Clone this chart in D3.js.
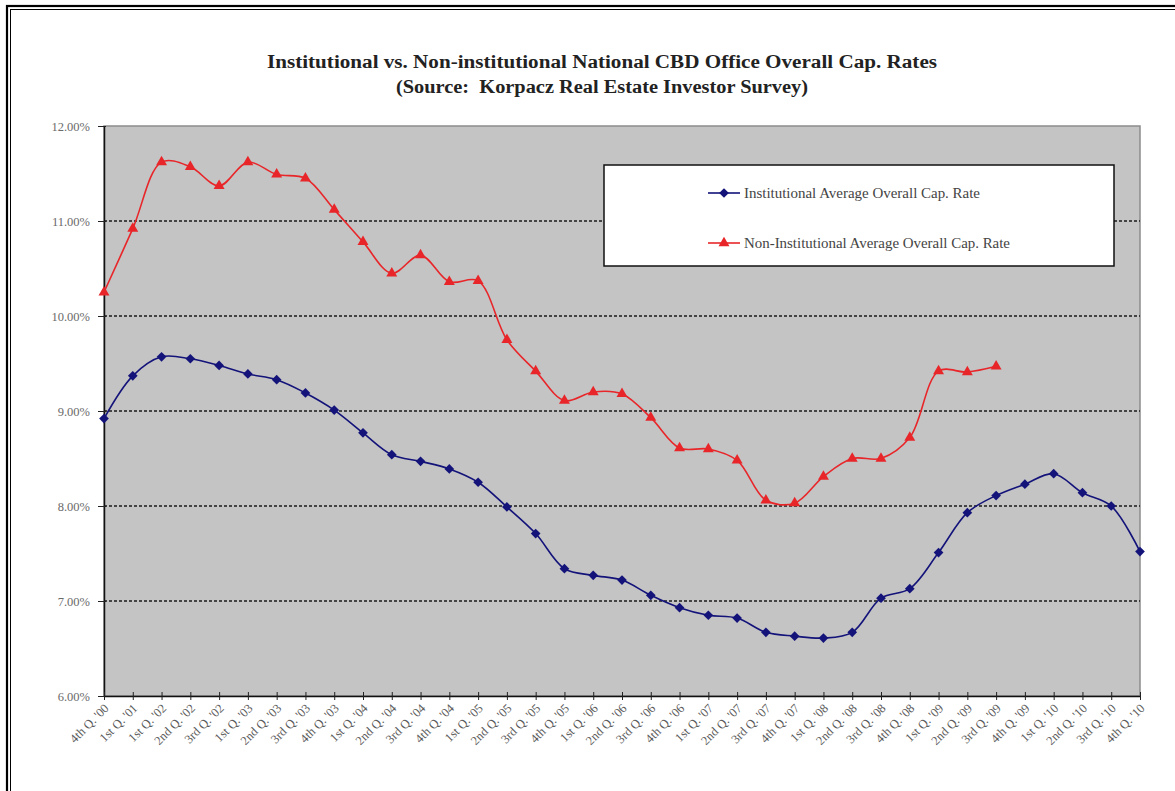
<!DOCTYPE html>
<html>
<head>
<meta charset="utf-8">
<script src="https://cdn.jsdelivr.net/npm/d3@7"></script>
<style>
  body { margin: 0; background: #fff; }
  svg { display: block; }
  text { font-family: "Liberation Serif", "DejaVu Serif", serif; }
</style>
</head>
<body>
<div class="chart"></div>
<script>
// quarters along the x axis (as printed in the source)
const quarters = [
  "4th Q. '00", "1st Q. '01", "1st Q. '02", "2nd Q. '02", "3rd Q. '02",
  "1st Q. '03", "2nd Q. '03", "3rd Q. '03", "4th Q. '03",
  "1st Q. '04", "2nd Q. '04", "3rd Q. '04", "4th Q. '04",
  "1st Q. '05", "2nd Q. '05", "3rd Q. '05", "4th Q. '05",
  "1st Q. '06", "2nd Q. '06", "3rd Q. '06", "4th Q. '06",
  "1st Q. '07", "2nd Q. '07", "3rd Q. '07", "4th Q. '07",
  "1st Q. '08", "2nd Q. '08", "3rd Q. '08", "4th Q. '08",
  "1st Q. '09", "2nd Q. '09", "3rd Q. '09", "4th Q. '09",
  "1st Q. '10", "2nd Q. '10", "3rd Q. '10", "4th Q. '10"
];

// cap rates in percent
const institutional = [
  8.92, 9.37, 9.57, 9.55, 9.48, 9.39, 9.33, 9.19, 9.01, 8.77,
  8.54, 8.47, 8.39, 8.25, 7.99, 7.71, 7.34, 7.27, 7.22, 7.06,
  6.93, 6.85, 6.82, 6.67, 6.63, 6.61, 6.67, 7.03, 7.13, 7.51,
  7.93, 8.11, 8.23, 8.34, 8.14, 8.00, 7.52
];
// non-institutional series stops at 3rd Q. '09
const nonInstitutional = [
  10.25, 10.92, 11.62, 11.57, 11.37, 11.62, 11.49, 11.45, 11.12, 10.78,
  10.45, 10.64, 10.36, 10.37, 9.75, 9.42, 9.11, 9.20, 9.18, 8.93,
  8.61, 8.60, 8.48, 8.06, 8.03, 8.31, 8.50, 8.50, 8.72, 9.42,
  9.41, 9.47
];

const yTicks = [6, 7, 8, 9, 10, 11, 12];
const gridValues = [7, 8, 9, 10, 11];

const seriesNames = [
  "Institutional Average Overall Cap. Rate",
  "Non-Institutional Average Overall Cap. Rate"
];

const W = 1175, H = 791;
const plot = { left: 104, right: 1140, top: 126, bottom: 696 };

const svg = d3.select(".chart").append("svg")
  .attr("width", W)
  .attr("height", H);

// page frame (cut off at right and bottom in the source)
svg.append("rect")
  .attr("x", 7).attr("y", 6)
  .attr("width", W + 20).attr("height", H + 20)
  .attr("fill", "none").attr("stroke", "#000").attr("stroke-width", 2.2);
svg.append("rect")
  .attr("x", 10.5).attr("y", 9.5)
  .attr("width", W + 20).attr("height", H + 20)
  .attr("fill", "none").attr("stroke", "#000").attr("stroke-width", 1);

// title
const title = svg.append("g").attr("font-weight", "bold").attr("fill", "#222")
  .attr("text-anchor", "middle").attr("font-size", 18);
title.append("text").attr("x", 602).attr("y", 68)
  .attr("textLength", 670).attr("lengthAdjust", "spacingAndGlyphs")
  .text("Institutional vs. Non-institutional National CBD Office Overall Cap. Rates");
title.append("text").attr("x", 602).attr("y", 93)
  .attr("textLength", 412).attr("lengthAdjust", "spacingAndGlyphs")
  .attr("xml:space", "preserve")
  .text("(Source:  Korpacz Real Estate Investor Survey)");

const x = d3.scalePoint()
  .domain(quarters)
  .range([plot.left, plot.right]);

const y = d3.scaleLinear()
  .domain([6, 12])
  .range([plot.bottom, plot.top]);

// plot area
svg.append("rect")
  .attr("x", plot.left).attr("y", plot.top)
  .attr("width", plot.right - plot.left).attr("height", plot.bottom - plot.top)
  .attr("fill", "#c4c4c4")
  .attr("stroke", "#8c8c8c").attr("stroke-width", 1.5);

// dashed gridlines
svg.append("g").selectAll("line")
  .data(gridValues)
  .join("line")
  .attr("x1", plot.left).attr("x2", plot.right)
  .attr("y1", d => y(d)).attr("y2", d => y(d))
  .attr("stroke", "#1a1a1a").attr("stroke-width", 1.3)
  .attr("stroke-dasharray", "3,2");

// y axis
const yAxis = svg.append("g")
  .attr("transform", `translate(${plot.left},0)`)
  .call(d3.axisLeft(y)
    .tickValues(yTicks)
    .tickFormat(d => d.toFixed(2) + "%")
    .tickSizeInner(5)
    .tickSizeOuter(0)
    .tickPadding(9));
yAxis.select(".domain").attr("stroke", "#111").attr("stroke-width", 1.5);
yAxis.selectAll(".tick line").attr("stroke", "#222").attr("x2", -6).attr("x1", 2);
yAxis.selectAll(".tick text")
  .attr("font-size", 12.5).attr("fill", "#6a6a6a")
  .attr("font-family", "'Liberation Serif', serif");

// x axis
const xAxis = svg.append("g")
  .attr("transform", `translate(0,${plot.bottom})`)
  .call(d3.axisBottom(x).tickSizeInner(4).tickSizeOuter(0).tickPadding(6));
xAxis.select(".domain").attr("stroke", "#111").attr("stroke-width", 1.5);
xAxis.selectAll(".tick line").attr("stroke", "#222").attr("y1", -4).attr("y2", 4);
xAxis.selectAll(".tick text")
  .attr("font-size", 12.5).attr("fill", "#5a5a5a")
  .attr("font-family", "'Liberation Serif', serif")
  .attr("text-anchor", "end")
  .attr("dy", 0)
  .attr("transform", "translate(5,13) rotate(-45)")
  .attr("y", 0).attr("x", 0);

const curve = d3.curveCatmullRom.alpha(0.5);

const line = d3.line()
  .x((d, i) => x(quarters[i]))
  .y(d => y(d))
  .curve(curve);

const blue = "#13137a";
const red = "#e8262a";

svg.append("path")
  .datum(nonInstitutional)
  .attr("fill", "none").attr("stroke", red).attr("stroke-width", 1.6)
  .attr("d", line);

svg.append("path")
  .datum(institutional)
  .attr("fill", "none").attr("stroke", blue).attr("stroke-width", 1.6)
  .attr("d", line);

const diamond = d3.symbol().type(d3.symbolDiamond2).size(60);
const triangle = d3.symbol().type(d3.symbolTriangle).size(52);

svg.append("g").selectAll("path")
  .data(nonInstitutional)
  .join("path")
  .attr("transform", (d, i) => `translate(${x(quarters[i])},${y(d)})`)
  .attr("d", triangle)
  .attr("fill", red);

svg.append("g").selectAll("path")
  .data(institutional)
  .join("path")
  .attr("transform", (d, i) => `translate(${x(quarters[i])},${y(d)})`)
  .attr("d", diamond)
  .attr("fill", blue);

// legend
const legend = svg.append("g");
legend.append("rect")
  .attr("x", 604).attr("y", 165).attr("width", 510).attr("height", 101)
  .attr("fill", "#fff").attr("stroke", "#111").attr("stroke-width", 1.5);

const legendRows = [
  { name: seriesNames[0], color: blue, sym: diamond, y: 193, len: 236 },
  { name: seriesNames[1], color: red, sym: triangle, y: 243, len: 266 }
];
const row = legend.selectAll("g.row").data(legendRows).join("g")
  .attr("class", "row")
  .attr("transform", d => `translate(0,${d.y})`);
row.append("line")
  .attr("x1", 708).attr("x2", 740)
  .attr("stroke", d => d.color).attr("stroke-width", 1.6);
row.append("path")
  .attr("transform", "translate(724,0)")
  .attr("d", d => d.sym())
  .attr("fill", d => d.color);
row.append("text")
  .attr("x", 744).attr("dy", "0.35em")
  .attr("font-size", 14).attr("fill", "#444")
  .attr("textLength", d => d.len).attr("lengthAdjust", "spacingAndGlyphs")
  .text(d => d.name);
</script>
</body>
</html>
